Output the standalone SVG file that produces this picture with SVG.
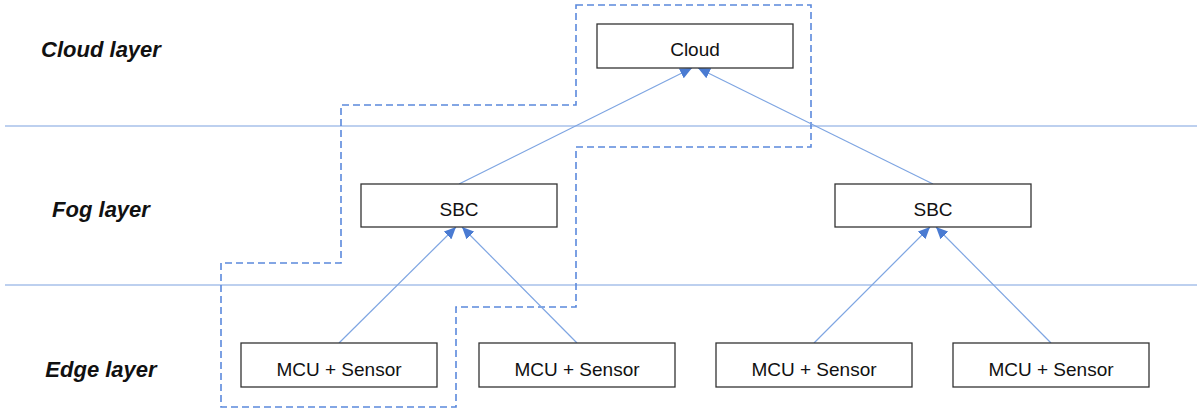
<svg xmlns="http://www.w3.org/2000/svg" width="1197" height="408" viewBox="0 0 1197 408">
<style>
.box{fill:#ffffff;stroke:#333333;stroke-width:1.3}
.t{font-family:"Liberation Sans",Arial,sans-serif;font-size:19px;fill:#111111;text-anchor:middle}
.lay{font-family:"Liberation Sans",Arial,sans-serif;font-size:22px;font-weight:bold;font-style:italic;fill:#111111;text-anchor:middle}
.sep{stroke:#7ca1e0;stroke-width:1.2;fill:none}
.conn{stroke:#7ea5e2;stroke-width:1.2;fill:none;marker-end:url(#ah)}
.dash{stroke:#5b89dc;stroke-width:1.6;fill:none;stroke-dasharray:7 4}
</style>
<defs>
<marker id="ah" markerUnits="userSpaceOnUse" markerWidth="13" markerHeight="11" refX="12" refY="5.5" orient="auto">
<path d="M0,0 L12,5.5 L0,11 Z" fill="#4a7bd2"/>
</marker>
</defs>
<rect width="1197" height="408" fill="#ffffff"/>
<g id="layers">
<line class="sep" x1="5" y1="126" x2="1197" y2="126"/>
<line class="sep" x1="5" y1="285" x2="1197" y2="285"/>
<text class="lay" x="101" y="57">Cloud layer</text>
<text class="lay" x="101" y="217">Fog layer</text>
<text class="lay" x="101" y="377">Edge layer</text>
</g>
<g id="boundary">
<path class="dash" d="M576,5 L811,5 L811,147 L576,147 L576,307 L456,307 L456,407 L221,407 L221,263 L341,263 L341,105 L576,105 Z"/>
</g>
<g id="connectors">
<line class="conn" x1="459" y1="184" x2="692" y2="68"/>
<line class="conn" x1="933" y1="184" x2="698" y2="68"/>
<line class="conn" x1="339" y1="343" x2="456" y2="227"/>
<line class="conn" x1="577" y1="343" x2="462" y2="227"/>
<line class="conn" x1="814" y1="343" x2="930" y2="227"/>
<line class="conn" x1="1051" y1="343" x2="936" y2="227"/>
</g>
<g id="cloud">
<rect class="box" x="597" y="24" width="196" height="44"/>
<text class="t" x="695" y="56">Cloud</text>
</g>
<g id="sbc1">
<rect class="box" x="361" y="184" width="196" height="43"/>
<text class="t" x="459" y="216">SBC</text>
</g>
<g id="sbc2">
<rect class="box" x="835" y="184" width="196" height="43"/>
<text class="t" x="933" y="216">SBC</text>
</g>
<g id="mcu1">
<rect class="box" x="241" y="343" width="196" height="44"/>
<text class="t" x="339" y="376">MCU + Sensor</text>
</g>
<g id="mcu2">
<rect class="box" x="479" y="343" width="196" height="44"/>
<text class="t" x="577" y="376">MCU + Sensor</text>
</g>
<g id="mcu3">
<rect class="box" x="716" y="343" width="196" height="44"/>
<text class="t" x="814" y="376">MCU + Sensor</text>
</g>
<g id="mcu4">
<rect class="box" x="953" y="343" width="196" height="44"/>
<text class="t" x="1051" y="376">MCU + Sensor</text>
</g>
</svg>
